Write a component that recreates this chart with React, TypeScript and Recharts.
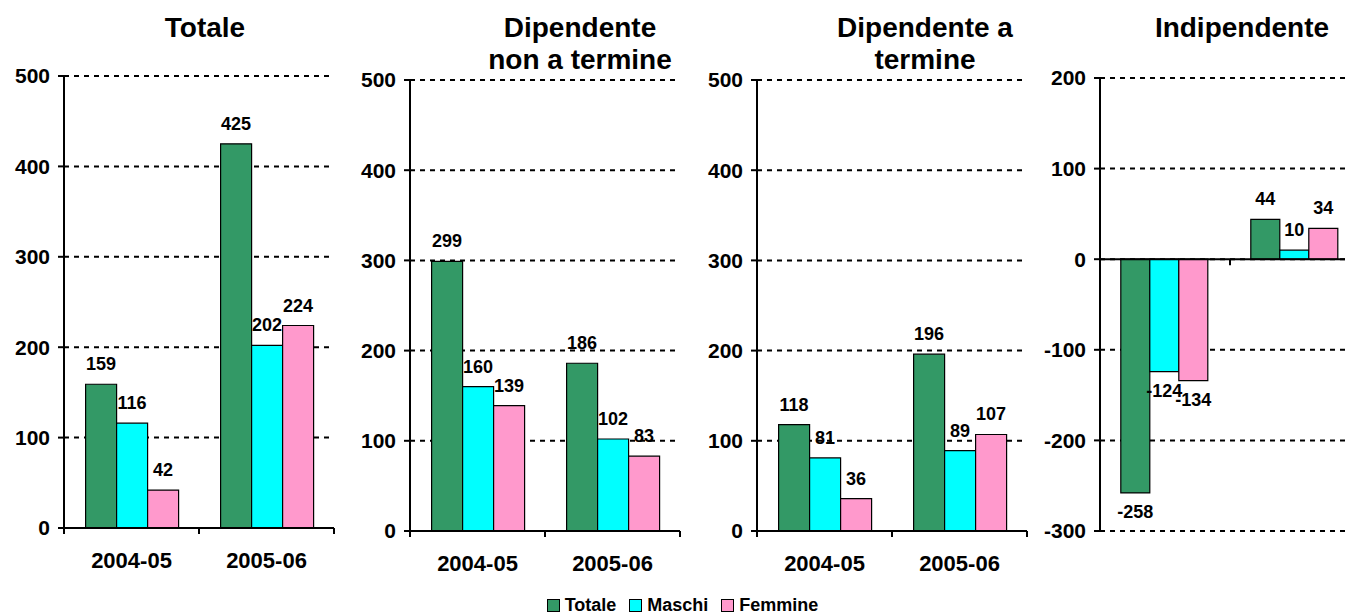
import React from 'react';
import { BarChart, Bar, XAxis, YAxis, CartesianGrid, LabelList, ReferenceLine } from 'recharts';

// Categories and series
const categories = ['2004-05', '2005-06'];
const seriesNames = ['Totale', 'Maschi', 'Femmine'];
const seriesColors = ['#339966', '#00FFFF', '#FF99CC'];

// Totale
const totTotale = [159, 425];
const totMaschi = [116, 202];
const totFemmine = [42, 224];

// Dipendente non a termine
const dntTotale = [299, 186];
const dntMaschi = [160, 102];
const dntFemmine = [139, 83];

// Dipendente a termine
const datTotale = [118, 196];
const datMaschi = [81, 89];
const datFemmine = [36, 107];

// Indipendente
const indTotale = [-258, 44];
const indMaschi = [-124, 10];
const indFemmine = [-134, 34];

// Y axis ticks
const ticksPositive = [0, 100, 200, 300, 400, 500];
const ticksMixed = [-300, -200, -100, 0, 100, 200];

const FONT = 'Arial, "Liberation Sans", Helvetica, sans-serif';
const H = 614;
const AXIS_STROKE = 2;

function buildRows(t: number[], m: number[], f: number[]) {
  return categories.map((c, i) => ({ category: c, Totale: t[i], Maschi: m[i], Femmine: f[i] }));
}

type Box = { left: number; width: number; plotLeft: number; plotRight: number; plotTop: number; plotBottom: number };

type PanelDef = {
  title: string[];
  titleX: number;
  rows: ReturnType<typeof buildRows>;
  domain: [number, number];
  ticks: number[];
  showCategories: boolean;
  box: Box;
};

const panels: PanelDef[] = [
  {
    title: ['Totale'],
    titleX: 205,
    rows: buildRows(totTotale, totMaschi, totFemmine),
    domain: [0, 500],
    ticks: ticksPositive,
    showCategories: true,
    box: { left: 0, width: 340, plotLeft: 64, plotRight: 334, plotTop: 76, plotBottom: 528 },
  },
  {
    title: ['Dipendente', 'non a termine'],
    titleX: 580,
    rows: buildRows(dntTotale, dntMaschi, dntFemmine),
    domain: [0, 500],
    ticks: ticksPositive,
    showCategories: true,
    box: { left: 340, width: 345, plotLeft: 410, plotRight: 680, plotTop: 80, plotBottom: 531 },
  },
  {
    title: ['Dipendente a', 'termine'],
    titleX: 925,
    rows: buildRows(datTotale, datMaschi, datFemmine),
    domain: [0, 500],
    ticks: ticksPositive,
    showCategories: true,
    box: { left: 685, width: 345, plotLeft: 757, plotRight: 1027, plotTop: 80, plotBottom: 531 },
  },
  {
    title: ['Indipendente'],
    titleX: 1242,
    rows: buildRows(indTotale, indMaschi, indFemmine),
    domain: [-300, 200],
    ticks: ticksMixed,
    showCategories: false,
    box: { left: 1030, width: 330, plotLeft: 1100, plotRight: 1360, plotTop: 78, plotBottom: 531 },
  },
];

// Category label plus tick marks on the band boundaries
function CategoryTick(props: any) {
  const { x, y, payload, index, half, count } = props;
  const isLast = index === count - 1;
  return (
    <g>
      <line x1={x - half} y1={y} x2={x - half} y2={y + 6} stroke="#000" strokeWidth={AXIS_STROKE} />
      {isLast && <line x1={x + half} y1={y} x2={x + half} y2={y + 6} stroke="#000" strokeWidth={AXIS_STROKE} />}
      <text x={x} y={y + 40} textAnchor="middle" fontFamily={FONT} fontSize={22} fontWeight="bold" fill="#000">
        {payload.value}
      </text>
    </g>
  );
}

// Tick at the middle of the zero line
function MidTick(props: any) {
  const vb = props.viewBox;
  if (!vb) return null;
  const mx = vb.x + vb.width / 2;
  return <line x1={mx} y1={vb.y} x2={mx} y2={vb.y + 6} stroke="#000" strokeWidth={AXIS_STROKE} />;
}

// Value above positive bars, below negative ones
function ValueLabel(props: any) {
  const { x, y, width, height, value } = props;
  const nx = Number(x);
  const ny = Number(y);
  const nh = Number(height);
  const top = Math.min(ny, ny + nh);
  const bottom = Math.max(ny, ny + nh);
  const ty = Number(value) >= 0 ? top - 14 : bottom + 25;
  return (
    <text x={nx + Number(width) / 2} y={ty} textAnchor="middle" fontFamily={FONT} fontSize={18} fontWeight="bold" fill="#000">
      {value}
    </text>
  );
}

function Panel({ def }: { def: PanelDef }) {
  const { box, rows, domain, ticks, showCategories } = def;
  const xAxisHeight = showCategories ? 40 : 0;
  const margin = {
    top: box.plotTop,
    left: 0,
    right: box.left + box.width - box.plotRight,
    bottom: H - box.plotBottom - xAxisHeight,
  };
  const yAxisWidth = box.plotLeft - box.left;
  const half = (box.plotRight - box.plotLeft) / (2 * rows.length);
  return (
    <div style={{ position: 'absolute', left: box.left, top: 0, width: box.width, height: H }}>
      <BarChart width={box.width} height={H} data={rows} margin={margin} barCategoryGap="16%" barGap={0}>
        <CartesianGrid vertical={false} stroke="#000" strokeDasharray="5 5" strokeWidth={2} />
        <XAxis
          dataKey="category"
          hide={!showCategories}
          height={xAxisHeight}
          interval={0}
          axisLine={{ stroke: '#000', strokeWidth: AXIS_STROKE }}
          tickLine={false}
          tickSize={0}
          tickMargin={0}
          tick={<CategoryTick half={half} count={rows.length} />}
        />
        <YAxis
          type="number"
          domain={domain}
          ticks={ticks}
          interval={0}
          width={yAxisWidth}
          allowDataOverflow
          axisLine={{ stroke: '#000', strokeWidth: AXIS_STROKE }}
          tickLine={{ stroke: '#000', strokeWidth: AXIS_STROKE }}
          tickSize={6}
          tickMargin={8}
          tick={{ fill: '#000', fontSize: 21, fontWeight: 'bold', fontFamily: FONT }}
        />
        {seriesNames.map((name, i) => (
          <Bar key={name} dataKey={name} fill={seriesColors[i]} stroke="#000" strokeWidth={1.2} isAnimationActive={false}>
            <LabelList dataKey={name} content={<ValueLabel />} />
          </Bar>
        ))}
        {!showCategories && <ReferenceLine y={0} stroke="#000" strokeWidth={AXIS_STROKE} label={<MidTick />} />}
      </BarChart>
    </div>
  );
}

function Legend() {
  return (
    <div
      style={{
        position: 'absolute',
        left: 10,
        top: 594,
        width: 1345,
        display: 'flex',
        justifyContent: 'center',
        alignItems: 'center',
        fontFamily: FONT,
        fontSize: 18,
        fontWeight: 'bold',
        color: '#000',
        lineHeight: '22px',
      }}
    >
      {seriesNames.map((name, i) => (
        <div key={name} style={{ display: 'flex', alignItems: 'center', marginRight: i < seriesNames.length - 1 ? 13 : 0 }}>
          <span
            style={{
              display: 'inline-block',
              width: 11,
              height: 11,
              border: '1px solid #000',
              background: seriesColors[i],
              marginRight: 5,
            }}
          />
          <span>{name}</span>
        </div>
      ))}
    </div>
  );
}

export default function App() {
  return (
    <div
      style={{
        position: 'absolute',
        left: 0,
        top: 0,
        width: 1345,
        height: H,
        overflow: 'hidden',
        background: '#fff',
      }}
    >
      <svg width={1345} height={H} style={{ position: 'absolute', left: 0, top: 0 }}>
        {panels.map((p) =>
          p.title.map((line, li) => (
            <text
              key={p.titleX + '-' + li}
              x={p.titleX}
              y={37 + li * 32}
              textAnchor="middle"
              fontFamily={FONT}
              fontSize={28}
              fontWeight="bold"
              fill="#000"
            >
              {line}
            </text>
          ))
        )}
      </svg>
      {panels.map((p) => (
        <Panel key={p.titleX} def={p} />
      ))}
      <Legend />
    </div>
  );
}
